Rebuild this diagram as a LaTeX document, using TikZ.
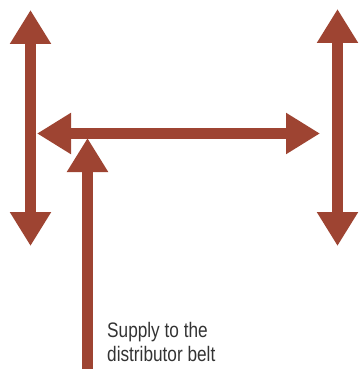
\documentclass[tikz,border=0pt]{standalone}
\usepackage{fontspec}
\newfontfamily\lblfont{Liberation Sans}[FakeStretch=0.82]
\usetikzlibrary{arrows.meta}
\definecolor{rust}{RGB}{158,68,50}
\tikzset{
  flow/.style={draw=rust, line width=11pt,
    arrows={-Triangle[width=39pt,length=34pt,fill=rust]}},
  flowboth/.style={draw=rust, line width=11pt,
    arrows={Triangle[width=39pt,length=34pt,fill=rust]-Triangle[width=39pt,length=34pt,fill=rust]}},
  lbl/.style={font=\lblfont\fontsize{21pt}{24pt}\selectfont, text=black!80, align=left, inner sep=0pt}
}
\begin{document}
\begin{tikzpicture}[x=1pt,y=-1pt]
\useasboundingbox (0,0) rectangle (360,369);
\coordinate (lt) at (30.5,10);
\coordinate (lb) at (30.5,246);
\coordinate (rt) at (337.5,9);
\coordinate (rb) at (337.5,246);
\coordinate (hl) at (37,133.5);
\coordinate (hr) at (320,133.5);
\coordinate (sb) at (87.5,372);
\coordinate (st) at (87.5,138);
\draw[flowboth] (lb) -- (lt);
\draw[flowboth] (rb) -- (rt);
\draw[flowboth] (hl) -- (hr);
\draw[flow] (sb) -- (st);
\node[lbl, anchor=base west] (supply) at (107,361) {Supply to the\\distributor belt};
\end{tikzpicture}
\end{document}
